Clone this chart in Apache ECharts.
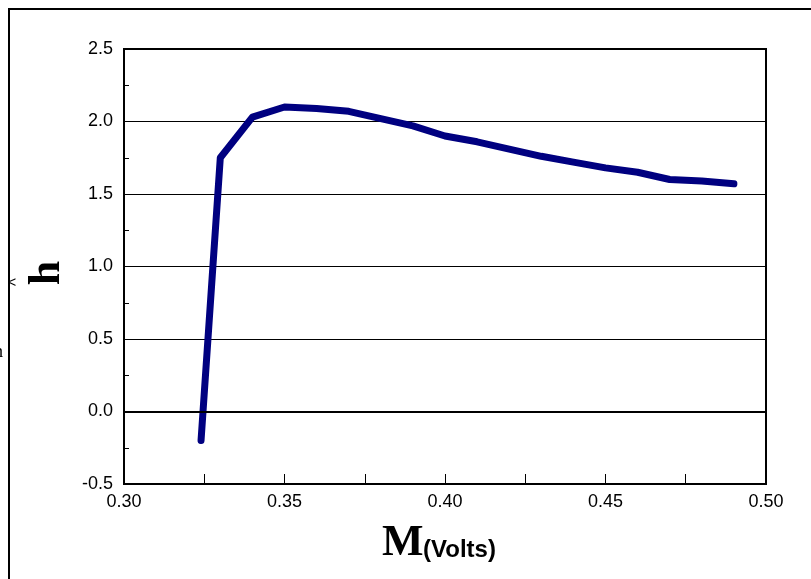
<!DOCTYPE html>
<html>
<head>
<meta charset="utf-8">
<script src="https://cdn.jsdelivr.net/npm/echarts@6/dist/echarts.min.js"></script>
<style>
  html, body { margin: 0; padding: 0; background: #fff; }
  #main { width: 811px; height: 579px; }
</style>
</head>
<body>
<div id="main"></div>
<script>
// data
var voltage = [0.324, 0.33, 0.34, 0.35, 0.36, 0.37, 0.38, 0.39, 0.40, 0.41, 0.42, 0.43, 0.44, 0.45, 0.46, 0.47, 0.48, 0.49];
var hValues = [-0.20, 1.75, 2.03, 2.10, 2.09, 2.07, 2.02, 1.97, 1.90, 1.86, 1.81, 1.76, 1.72, 1.68, 1.65, 1.60, 1.59, 1.57];
var xTicks = [0.30, 0.35, 0.40, 0.45, 0.50];
var xTickMarks = [0.30, 0.325, 0.35, 0.375, 0.40, 0.425, 0.45, 0.475, 0.50];

var points = [];
for (var i = 0; i < voltage.length; i++) {
  points.push([voltage[i], hValues[i]]);
}

var chart = echarts.init(document.getElementById('main'));

var labelFont = {
  color: '#000',
  fontFamily: 'Liberation Sans, Arial, sans-serif',
  fontSize: 18
};

var option = {
  animation: false,
  grid: {
    left: 124,
    top: 49,
    width: 642,
    height: 435,
    show: true,
    borderColor: '#000',
    borderWidth: 2,
    backgroundColor: 'transparent'
  },
  xAxis: {
    type: 'value',
    min: 0.3,
    max: 0.5,
    interval: 0.05,
    axisLine: { onZero: false, lineStyle: { color: '#000', width: 2 } },
    axisTick: { inside: true, length: 10, customValues: xTickMarks, lineStyle: { color: '#000', width: 1 } },
    splitLine: { show: false },
    axisLabel: Object.assign({
      margin: 9,
      customValues: xTicks,
      showMinLabel: true,
      showMaxLabel: true,
      formatter: function (v) { return v.toFixed(2); }
    }, labelFont)
  },
  yAxis: {
    type: 'value',
    min: -0.5,
    max: 2.5,
    interval: 0.5,
    axisLine: { lineStyle: { color: '#000', width: 2 } },
    axisTick: { inside: true, length: 5, lineStyle: { color: '#000' } },
    minorTick: { show: true, splitNumber: 2, length: 5, lineStyle: { color: '#000' } },
    splitLine: { show: true, lineStyle: { color: '#000', width: 1 } },
    axisLabel: Object.assign({
      margin: 11,
      formatter: function (v) { return v.toFixed(1); }
    }, labelFont)
  },
  series: [{
    type: 'line',
    data: points,
    symbol: 'none',
    lineStyle: { color: '#000080', width: 7, cap: 'round', join: 'round' },
    markLine: {
      silent: true,
      symbol: 'none',
      label: { show: false },
      lineStyle: { color: '#000', width: 2, type: 'solid' },
      data: [{ yAxis: 0 }]
    },
    z: 3
  }],
  graphic: [
    {
      type: 'rect',
      shape: { x: 9, y: 9, width: 900, height: 700 },
      style: { fill: 'none', stroke: '#000', lineWidth: 2 },
      silent: true
    },
    {
      type: 'text',
      x: 48, y: 273,
      rotation: Math.PI / 2,
      style: {
        text: 'h',
        font: 'bold 44px "Liberation Serif", "Times New Roman", serif',
        fill: '#000',
        align: 'center',
        verticalAlign: 'middle'
      }
    },
    {
      type: 'text',
      x: 382, y: 544,
      style: {
        text: 'M',
        font: 'bold 44px "Liberation Serif", "Times New Roman", serif',
        fill: '#000',
        align: 'left',
        verticalAlign: 'middle'
      }
    },
    {
      type: 'text',
      x: 423, y: 550,
      style: {
        text: '(Volts)',
        font: 'bold 24px "Liberation Sans", Arial, sans-serif',
        fill: '#000',
        align: 'left',
        verticalAlign: 'middle'
      }
    },
    {
      type: 'text',
      x: 12, y: 283,
      style: {
        text: '<',
        font: '14px "Liberation Sans", Arial, sans-serif',
        fill: '#000',
        align: 'center',
        verticalAlign: 'middle'
      }
    },
    {
      type: 'text',
      x: -6, y: 352,
      style: {
        text: 'h',
        font: '18px "Liberation Serif", serif',
        fill: '#000',
        align: 'left',
        verticalAlign: 'middle'
      }
    }
  ]
};

chart.setOption(option);
</script>
</body>
</html>
